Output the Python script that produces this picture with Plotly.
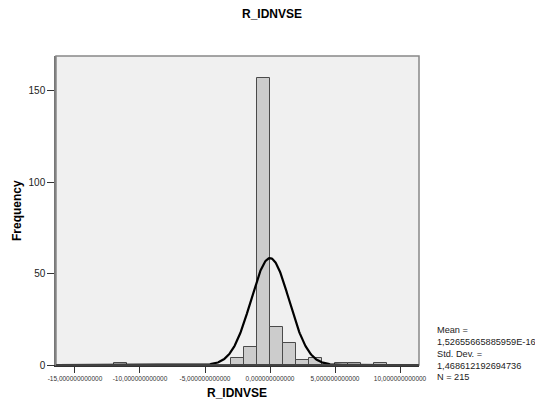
import numpy as np
import plotly.graph_objects as go

# Histogram data (bin left edges, width 1) and counts
bin_left = [-12, -3, -2, -1, 0, 1, 2, 3, 5, 6, 8]
counts = [1, 4, 10, 157, 21, 12, 3, 4, 1, 1, 1]
bin_width = 1.0

mean_val = 1.52655665885959e-16
std_val = 1.468612192694736
n_val = 215

x_tickvals = [-15, -10, -5, 0, 5, 10]
x_ticktext = ["-15,000000000000", "-10,000000000000", "-5,000000000000",
              "0,000000000000", "5,000000000000", "10,000000000000"]
y_tickvals = [0, 50, 100, 150]

stats_lines = ["Mean =", "1,52655665885959E-16", "Std. Dev. =",
               "1,468612192694736", "N = 215"]

FONT = "Liberation Sans, Arial, sans-serif"

centers = [b + bin_width / 2 for b in bin_left]

xs = np.linspace(-16.5, 11.5, 600)
ys = n_val * bin_width / (std_val * np.sqrt(2 * np.pi)) * np.exp(-0.5 * ((xs - mean_val) / std_val) ** 2)

fig = go.Figure()
fig.add_trace(go.Bar(
    x=centers, y=counts, width=bin_width,
    marker=dict(color="#CCCCCC", line=dict(color="#4a4a4a", width=1)),
    hoverinfo="skip", showlegend=False,
))
fig.add_trace(go.Scatter(
    x=xs, y=ys, mode="lines", line=dict(color="black", width=2.2),
    hoverinfo="skip", showlegend=False,
))

# page has an 8px body margin; compensate so the chart sits like the reference
OFF = 8
W, H = 543 - OFF, 407 - OFF
ml, mr, mt, mb = 56 - OFF, 124, 56 - OFF, 42
plot_w = W - ml - mr
plot_h = H - mt - mb

def px_x(xp):
    return (xp - OFF - ml) / plot_w

def px_y(yp):
    return (H - mb - (yp - OFF)) / plot_h

annotations = []
line_y = [330, 342, 354, 365.5, 377]
for txt, yp in zip(stats_lines, line_y):
    annotations.append(dict(
        text=txt, xref="paper", yref="paper",
        x=px_x(435), y=px_y(yp),
        xanchor="left", yanchor="middle", showarrow=False,
        font=dict(family=FONT, size=9.2, color="#222222"),
    ))
annotations.append(dict(
    text="<b>R_IDNVSE</b>", xref="paper", yref="paper",
    x=px_x(237), y=px_y(393), xanchor="center", yanchor="middle", showarrow=False,
    font=dict(family=FONT, size=12, color="black"),
))
annotations.append(dict(
    text="<b>Frequency</b>", xref="paper", yref="paper",
    x=px_x(17), y=px_y(211), xanchor="center", yanchor="middle", showarrow=False,
    textangle=-90, font=dict(family=FONT, size=12, color="black"),
))
annotations.append(dict(
    text="<b>R_IDNVSE</b>", xref="paper", yref="paper",
    x=px_x(272), y=px_y(14), xanchor="center", yanchor="middle", showarrow=False,
    font=dict(family=FONT, size=12, color="black"),
))

fig.update_layout(
    width=W, height=H,
    margin=dict(l=ml, r=mr, t=mt, b=mb, pad=0, autoexpand=False),
    paper_bgcolor="white", plot_bgcolor="#F0F0F0",
    bargap=0,
    font=dict(family=FONT),
    xaxis=dict(
        range=[-16.46, 11.46], tickvals=x_tickvals, ticktext=x_ticktext,
        ticks="outside", ticklen=6, tickcolor="#333333", tickwidth=1,
        tickfont=dict(family=FONT, size=6.5, color="#333333"),
        showgrid=False, zeroline=False, showline=True, linecolor="#333333", linewidth=1.5,
        automargin=False, fixedrange=True,
    ),
    yaxis=dict(
        range=[0, 168.9], tickvals=y_tickvals,
        ticks="outside", ticklen=7, tickcolor="#333333", tickwidth=1,
        tickfont=dict(family=FONT, size=10, color="#222222"),
        showgrid=False, zeroline=False, showline=True, linecolor="#777777", linewidth=1.5,
        automargin=False, fixedrange=True,
    ),
    shapes=[
        dict(type="rect", xref="paper", yref="paper", x0=0, x1=1, y0=0, y1=1,
             line=dict(color="#888888", width=1.5), fillcolor="rgba(0,0,0,0)", layer="above"),
        dict(type="line", xref="paper", yref="paper", x0=0, x1=1, y0=0, y1=0,
             line=dict(color="#333333", width=1.5), layer="above"),
    ],
    annotations=annotations,
)

fig.write_html("out.html")
